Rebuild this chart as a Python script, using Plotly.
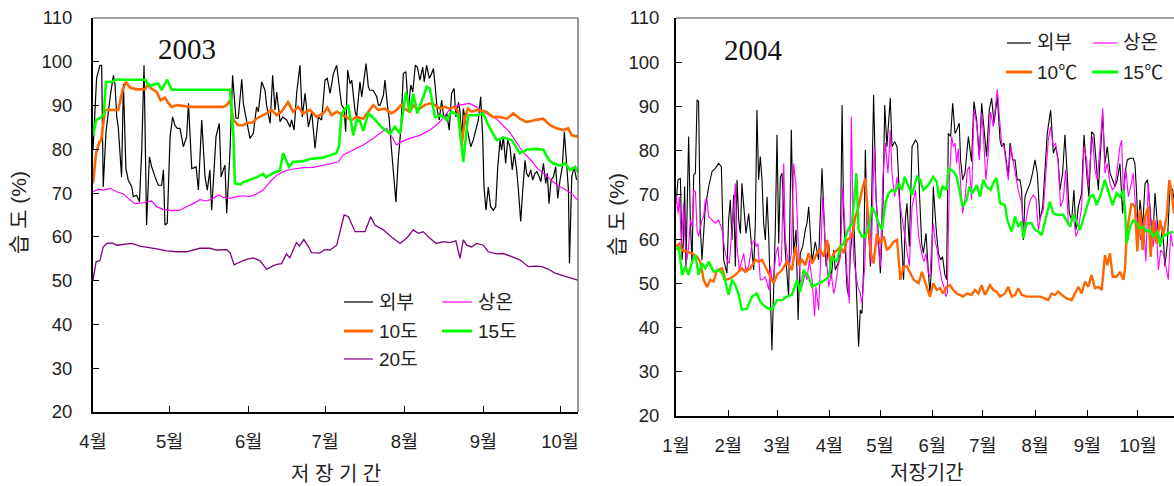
import plotly.graph_objects as go

W, H = 1174, 486

# ---------------- 2003 (day 0 = 4월 1일) ----------------
d03_out = [0, 1.4, 2.7, 3.4, 4.0, 5.1, 6.9, 8.0, 8.6, 9.3, 9.9, 11.2, 11.9, 12.9, 13.8, 15.2, 15.8, 17.1, 18.2, 19.1,
           20, 21, 22.1, 23, 24.3, 25.6, 26.9, 27.6, 28.2, 29.1, 30.2, 31.2, 32.1, 33, 34.1, 35.4, 36.7, 37.4, 38.7,
           40.4, 41.3, 42.6, 43.9, 44.8, 45.8, 46.5, 48.2, 49.5, 50.2, 51.7, 52.4, 53.7, 54.7, 56, 56.9, 58.3, 58.9,
           60.2, 61.5, 62.8, 64.1, 64.8, 66.1, 67.4, 68, 69.4, 70.4, 71.3, 72, 73.3, 74.3, 75.9, 77.2, 77.8, 78.8,
           79.8, 81.1, 82, 83.1, 84.4, 85.7, 87, 88.3, 89.6, 90.9, 91.8,
           92.9, 94.2, 95.5, 96.5, 97.4, 98.4, 99, 99.8, 100.7, 101.4, 102, 102.7, 103.3, 104, 104.6, 105.3, 105.9,
           107, 107.9, 108.5, 109.8, 111.2, 111.8, 112.5, 113.8, 114.4, 115.3, 116.1, 117, 117.9, 118.7, 119.6,
           120.6, 121.6, 122.6, 123.6, 124.5, 125.3, 126.3, 127.1, 128.1, 129.2, 129.8, 130.7, 131.8, 132.7, 133.4,
           134.1, 134.9, 135.7, 136.6, 137.5, 138.6, 139.6, 140.5, 141.5, 142.2, 143.2, 143.8, 144.5, 145.1, 146.2,
           147.1, 148, 149, 150, 151, 151.9, 152.7, 153.2, 154, 154.9, 155.8, 156.9, 157.8, 158.6, 159.5, 160.1,
           160.8, 161.7, 162.5, 163.4, 164.3, 165.1, 166, 166.7, 167.6, 168.4, 169.3, 169.9, 170.7, 171.5, 172.3,
           173.2, 173.9, 174.9, 175.5, 176.5, 177.4, 178, 178.7, 179.5, 180.4, 181.3, 182.1, 183, 183.9, 184.7,
           185.6, 186.3, 186.7, 187.6, 188.5, 189.5]
v03_out = [79.8, 96.2, 99.2, 99.2, 71.4, 84, 92.8, 96.9, 95, 87.4, 85.1, 73.7, 95, 75.6, 73, 71.4, 69.2, 69.5, 68, 79.8,
           99.2, 62.7, 78.3, 76, 73.7, 71.8, 71.8, 75.3, 62.7, 63.1, 82.9, 87.4, 85.5, 84.8, 84.8, 80.6, 82.9, 90.5, 75.6,
           76, 70.7, 86.7, 73.7, 70.7, 75.3, 66.1, 82.9, 85.9, 73.7, 76.4, 65.4, 79.8, 96.9, 87.1, 87.1, 96, 90.5,
           86.3, 82.5, 83.6, 89.7, 88.6, 95.4, 93.5, 90.1, 85.9, 96.9, 89, 93.1, 86.3, 87.4, 86.7, 85.1, 86.7, 84.4,
           92.8, 99.2, 87.4, 92.8, 85.1, 88.6, 80.2, 87.4, 86.7, 95.8, 96.2,
           92.8, 97.3, 99.2, 94.3, 90.1, 89.3, 84, 98.1, 95, 95.8, 92.8, 88.6, 87.4, 92, 95.4, 92, 94.3,
           99.6, 94.3, 93.5, 93.5, 92, 90.1, 90.1, 92.4, 95.8, 90.5, 86.7, 79.8, 73.7, 68, 77.5,
           84.4, 97.3, 97.7, 89, 94.7, 93.1, 99.2, 98.8, 95.8, 98.8, 95.4, 99.2, 96.2, 97.3, 98.5,
           94.3, 89, 86.7, 91.2, 87.1, 88.2, 84.4, 92.8, 93.9, 87.4, 90.8, 88.6, 82.1, 89.3, 85.9,
           83.6, 80.6, 82.1, 84.4, 86.7, 92, 82.9, 71.4, 66.1, 71.4, 66.9, 66.1, 66.9, 76, 82.1, 79.8,
           82.9, 76.8, 82.1, 80.6, 75.3, 79.1, 75.3, 70.7, 63.5, 70.7, 77.5, 74.5, 73.7, 75.3, 73,
           74.5, 74.9, 73.7, 72.6, 76.8, 72.2, 74.5, 67.6, 73, 73.7, 76, 68.8, 73, 76, 84,
           76, 70.7, 54, 73.7, 76, 73]

d03_room = [0, 2.1, 4, 6.7, 9.3, 11.9, 13.8, 16.4, 19.7, 23, 24.9, 27.5, 30.8, 34, 36.7, 39.3, 41.9, 44.5, 47.1, 49.1,
            51, 53.7, 56.3, 58.9, 61.5, 64.1, 66.7, 69.4, 72, 74.6, 77.2, 79.8, 82.4, 86.3, 90.2, 92.9, 96.1, 98,
            102, 105.9, 109.8, 113, 115, 117, 118.9, 120.8, 124.1, 128, 132, 134.5, 137.1, 139.1, 141, 143.6, 147.5,
            150.2, 152.8, 155.4, 158, 160.6, 163.2, 165.8, 168.4, 171, 174.3, 177.5, 180.2, 182.8, 185.4, 188.1, 189.7]
v03_room = [70.3, 70.9, 70.7, 71.1, 70.3, 69.8, 68.8, 67.6, 67.8, 68.2, 66.9, 66.3, 66, 66.1, 66.9, 67.6, 68.5, 68.2, 68.8, 69.6,
            69.1, 68.8, 69.2, 69.4, 69.2, 69.8, 70.7, 72.6, 74.1, 74.9, 75.4, 75.6, 75.8, 75.9, 76.4, 76.8, 77.1, 78.7,
            79.8, 81, 82.5, 84, 84.8, 83, 81, 81.7, 82.5, 83.2, 84.4, 85.5, 87, 88.6, 89.7, 90.1, 90.5,
            89.7, 88.6, 87.8, 87, 85.5, 84, 81.7, 79.4, 77.9, 75.6, 74.1, 72.6, 71.5, 70.7, 69.6, 68.5]

d03_10 = [0, 1.2, 2.5, 3.2, 4.7, 6.7, 9.9, 11.6, 12.9, 14.5, 17.1, 20.4, 21.7, 22.3, 24.9, 26.5, 28.2, 29.5, 30.8, 32.8,
          38, 51, 52.4, 53.7, 55, 56.9, 58.9, 60.2, 62.8, 64, 68, 70, 71.9, 73.9, 76.4, 78.4, 80.4, 82.4, 85, 87.6,
          90.2, 91.8, 93.5, 95.5, 98, 101.3, 103.3, 105.9, 107.9, 109.8, 111.8, 114.3, 117, 118.9, 120.8, 122.1,
          124.1, 125.4, 127.3, 130, 132, 134, 136, 137.9, 139.9, 141.8, 143.1, 144.5, 145.8, 147, 148.3, 150.8,
          154.1, 156.7, 159.5, 162.1, 164.7, 167.3, 169.9, 173.2, 176.4, 179.1, 181.7, 184.3, 186.2, 187.6, 190.2]
v03_10 = [72.2, 79.1, 81.7, 82, 89, 89, 89, 93.5, 95.4, 94.1, 93.7, 93.7, 95, 94.1, 93.1, 91.2, 91.8, 90.6, 89.7, 90.1,
          89.7, 89.7, 90.1, 91.2, 86.7, 85.5, 85.5, 86, 86.2, 87, 88.2, 89, 87.8, 88.6, 90.8, 88.6, 89.7, 88.2, 89, 87.4,
          88.2, 89.5, 87.8, 88.6, 87.8, 86.7, 87.4, 87, 88.6, 90.1, 89, 89.3, 88.2, 89, 90.1, 89.3,
          88.6, 90.1, 89, 90.1, 90.5, 90.1, 89.3, 89.7, 89.3, 89.7, 88.6, 81, 87.4, 89.3, 88.6, 89,
          88.6, 87.4, 87.4, 87, 88.2, 87, 86.2, 86.7, 87, 85.5, 84.8, 84.4, 84.8, 83.2, 82.9]

d03_15 = [0, 1.2, 3.4, 4.2, 5.1, 8, 8.6, 20.4, 22.3, 23.5, 25.6, 26.9, 29.1, 30.8, 53.7, 55, 55.6, 57.6, 59, 61.5,
          64, 66.7, 67.8, 70.6, 73.2, 74.5, 76.8, 78.4, 82.3, 85, 90.1, 92.7, 95.3, 96.4, 97.4, 100, 102, 103.3,
          104.6, 105.9, 107.9, 110, 113, 116.4, 118.3, 120.3, 122.6, 124.2, 125.5, 127.1, 128.8, 130.8, 132, 134,
          136.6, 138.5, 140.5, 143.1, 145.1, 147, 150.3, 152.9, 154.9, 158.2, 160.8, 164.1, 167.3, 169.9, 173.2,
          176.5, 178.4, 180.2, 183, 185, 186.9, 188.9, 190.2]
v03_15 = [83, 86.7, 87.4, 88, 95.4, 95.5, 95.9, 95.9, 94.4, 94.8, 95, 93.5, 95.9, 93.6, 93.6, 83.6, 72.2, 72, 72.5, 73,
          73.6, 74.4, 73.6, 74.6, 75.1, 79.1, 76, 77.1, 77.3, 77.8, 78.1, 78.6, 79.1, 80.6, 88.2, 90.1, 83.2, 86.7,
          86.5, 84.2, 88.2, 87.1, 85.1, 83.6, 85.1, 83.6, 93.1, 88.6, 92.7, 88.2, 91.2, 94.3, 93.9, 87.4,
          87.8, 86.7, 88.6, 87.8, 77.1, 87.8, 87.8, 88.2, 85.5, 82.1, 82.7, 82.1, 79.1, 79.9, 80.1,
          79.9, 77.8, 76.8, 76.3, 76.8, 75.3, 76, 74.6]

d03_20 = [0, 1.2, 2.7, 4, 5.4, 7.5, 9.3, 11.9, 15.2, 18.4, 22.3, 25.6, 28.9, 32.8, 36.7, 39.3, 41.9, 45.8, 48.4, 52.4,
          53.7, 55.3, 57, 58.9, 60.8, 62.8, 65.4, 68, 70, 72, 73.9, 75.8, 77.1, 79.7, 80.9, 82.6, 84.3, 85.6, 88.9,
          90.8, 92.9, 95.5, 96.8, 98.4, 100.1, 102.7, 106.6, 108.8, 110.5, 113.8, 117, 120.3, 122.9, 125.5, 127.5,
          129.4, 132, 134.6, 137.3, 139.9, 142.2, 143.8, 145.1, 146.4, 148.4, 150.3, 152.9, 154.9, 158.2, 160.8,
          164.1, 167.4, 170.6, 173.3, 175.9, 178.5, 181.1, 184.4, 187, 189.9]
v03_20 = [50.1, 54.3, 54.6, 57.7, 58.5, 58.6, 58.1, 58.3, 58.5, 57.9, 57.6, 57.2, 56.8, 56.6, 56.6, 57, 57.4, 57.4, 57, 57.1,
          56.4, 53.6, 54.1, 54.6, 55, 55.2, 54.6, 52.6, 53.2, 53.7, 53.9, 56.1, 55.2, 58.7, 57.9, 59.4, 57.9, 56.4, 56.3,
          57.1, 57, 58.1, 61.2, 65, 64.6, 61.2, 61.2, 64.6, 62.7, 61.6, 60, 58.5, 59.7, 61.6, 60.8,
          61.2, 59.7, 58.5, 58.9, 58.7, 59.1, 55.1, 59.3, 58.1, 57.7, 58.5, 58.1, 56.6, 56.1, 56.2,
          55.5, 54.7, 53.2, 53.3, 53.2, 52.6, 51.7, 51.1, 50.5, 50.1]

ticks03 = [0, 30, 61, 91, 122, 153, 183]
labels03 = ["4월", "5월", "6월", "7월", "8월", "9월", "10월"]

# ---------------- 2004 (day 0 = 1월 1일) ----------------
d04_out = [0, 1.2, 2.6, 3.6, 4.5, 5.1, 5.9, 7.5, 8.5, 9.5, 10.5, 11.5, 12.5, 13.4, 14.4, 15.4, 17.4, 19.4, 21.4, 23.3,
           25.3, 26.9, 28.3, 29.3, 30.2, 31.2, 32.2, 33.2, 34.2, 35.2, 36.2, 37.2, 38.2, 39.1, 40.1, 41.5, 43.1,
           45.1, 46.1, 47.1, 48, 49, 50, 51, 52, 53, 54, 55, 56, 56.9, 57.9, 58.9, 59.9, 60.9, 61.9, 62.9, 64.8,
           66.8, 68.4, 69.8, 71.2, 72.4, 73.7, 75.1, 76.7, 77.7, 78.7, 80.7, 82.6, 84.6, 86.6, 87.6, 89, 90.6,
           92.1, 93.5, 94.5, 96.5, 97.5, 98.5, 99.4, 100.4, 101.4, 102.4, 103.4, 105.4, 106.4, 107.4, 108.3,
           109.3, 110.3, 111.3, 112.3, 113.3, 114.3, 115.3, 116.3, 117.2, 118.6, 119.8, 121.2, 122.6, 123.8,
           125.1, 126.1, 127.1, 128.1, 129.7, 131.1, 132.1, 133.1, 134, 135, 136, 137, 138.4, 140, 142, 143.3,
           144.5, 145.7, 146.7, 148.3, 149.6, 150.6, 151.6, 152.6, 154.2, 155.6, 157, 158.1, 159.5, 160.5, 161.5,
           162.9, 164.1, 165.5, 166.5, 168, 168.8, 170, 171.4, 173.4, 175.3, 176.7, 178.3, 179.9, 181.3, 182.7,
           184.2, 185.8, 187.2, 188.6, 190.6, 192.2, 193.1, 194.5, 195.7, 197.1, 198.1, 199.7, 201.1, 202.4, 204,
           205, 206, 207, 208.4, 210, 211.5, 212.9, 214.3, 215.9, 217.5, 218.8, 220.2, 222.2, 223.8, 225.2, 226.7,
           227.7, 229.3, 230.7, 232.1, 233.3, 234.7, 236, 237.2, 238.6, 240.6, 242, 243.6, 244.9, 246.5, 247.9,
           249.1, 250.5, 251.5, 253.1, 254.4, 255.8, 257.4, 259, 260.4, 261.7, 263.3, 264.9, 266.3, 267.7, 269.3,
           271.2, 272.2, 273.2, 274.2, 275.2, 276.8, 278.2, 279.7, 281.1, 282.7, 284.1, 285.5, 287.1, 288.6, 290,
           291.4, 293, 294.6, 295.4]
v04_out = [68, 73.4, 73.8, 55.3, 59.8, 71.9, 53.8, 83.2, 64.3, 54.5, 74.5, 74.9, 91.5, 91.1, 62.8, 55.3, 67.3, 71.9, 75.3, 76,
           77.1, 76.4, 55.3, 53.8, 52.3, 64.3, 68.9, 59.8, 70, 53.8, 73.4, 64.3, 61.3, 72.6, 67.3, 61.3, 65.8,
           56.4, 53, 64.3, 89.2, 73.4, 78.7, 73.4, 63.6, 59.8, 69.6, 60.6, 44.7, 34.9, 48.5, 62.1, 83.6, 59, 74.1, 74.9, 57.5,
           47, 84.7, 56.8, 62.1, 41.7, 56.8, 58.3, 62.1, 63.6, 67.3, 54.9, 59.4, 55.3, 76, 66.6, 53.8, 59,
           51.1, 57.5, 53, 54.9, 58.3, 90.3, 65.8, 57.5, 49.2, 47, 56.8, 64.3, 53.8, 46.2, 35.7,
           44, 43.2, 53.8, 80.2, 64.3, 62.1, 53.8, 73.4, 92.6, 70.4, 62.8, 52.3, 64.3, 90.3,
           80.9, 87.7, 91.9, 80.9, 82, 80.9, 73.4, 65.8, 60.6, 50.8, 64.3, 68.1, 58.3, 80.9, 82.4, 81.7,
           69.6, 59, 56.8, 61.3, 53, 47.7, 53.8, 71.9, 62.8, 56.8, 55.3, 56, 51.9, 50.8, 83.9,
           83.2, 90.7, 83.9, 84.7, 86.2, 77.9, 73.4, 74.9, 83.2, 77.5, 91.1, 87, 78.7, 90.7, 84.7,
           78.7, 89.2, 91.9, 86.2, 92.2, 82.4, 80.9, 81.7, 77.9, 74.1, 81.7, 77.9, 77.9, 73.4, 73.4,
           71.1, 59.8, 69.6, 71.1, 72.6, 74.9, 77.9, 74.9, 64.3, 67.3, 76, 83.9, 89.2, 79.4, 80.9, 77.9,
           71.1, 74.9, 83.6, 72.6, 65.8, 64.3, 71.1, 62.1, 67.3, 70.4, 83.6, 74.9, 69.6, 84.3, 83.6,
           77.9, 71.1, 77.9, 88.1, 77.1, 80.9, 74.9, 73.4, 71.9, 73.4, 77.1, 65.8, 74.9, 77.9, 78.3,
           78.3, 77.1, 70.4, 60.6, 68.9, 62.8, 72.6, 73.4, 67.3, 59, 70.4, 63.6, 58.3, 62.8, 53.8,
           59, 71.9, 71.1, 68.9]

d04_room = [0, 1.2, 2, 3.2, 4.5, 5.5, 6.5, 7.5, 8.5, 9.5, 10.5, 11.5, 12.5, 13.4, 15.4, 16.4, 17.4, 18.4, 19.4, 21.4,
            23.3, 25.3, 27.3, 28.9, 30.2, 31.6, 33.2, 34.2, 35.2, 36.2, 37.6, 39.1, 40.1, 41.5, 43.1, 45.1, 46.7,
            47.5, 48.6, 50, 51.4, 53, 55, 56, 56.9, 57.9, 59.3, 60.5, 61.3, 62.5, 63.9, 64.8, 65.8, 67.2, 68.4,
            69.8, 71.2, 72.4, 73.7, 74.7, 75.7, 76.7, 77.7, 79.1, 80.7, 82.2, 83, 84.6, 85.6, 87, 88.6, 89.6, 90.6,
            92.1, 93.5, 94.5, 96.1, 97.5, 98.9, 100, 101.4, 102.8, 104, 105.4, 106.8, 107.9, 109.3, 110.3, 111.9,
            113.3, 114.3, 115.7, 116.8, 117.6, 118.6, 119.8, 121.2, 122.6, 124.2, 125.7, 127.1, 128.1, 129.7, 131.1,
            132.5, 134, 135.6, 137, 138.4, 140, 142, 143.9, 145.7, 147.1, 148.3, 149.6, 150.6, 151.6, 152.6, 153.6,
            155, 156.2, 157.6, 158.9, 160.1, 160.9, 162.1, 163.5, 164.5, 165.5, 166.5, 167.4, 168.4, 170, 171.4,
            172.8, 174, 175.3, 176.7, 178.3, 179.9, 181.3, 182.3, 183.8, 185.2, 186.6, 188.2, 189.8, 190.6, 191.8,
            193.1, 194.5, 195.7, 197.1, 198.5, 200.1, 201.6, 203, 205, 206.4, 207.6, 209, 210.3, 211.9, 213.5,
            214.9, 216.3, 217.9, 219.4, 220.8, 222.2, 223.8, 225.2, 226.7, 228.1, 229.7, 231.1, 232.7, 234.1,
            235.6, 237.2, 238.6, 240.6, 242, 243.6, 244.5, 245.9, 247.1, 248.5, 249.9, 251.5, 253.1, 254.4, 255.8,
            257.4, 259, 260.4, 261.7, 263.3, 264.3, 265.3, 266.9, 268.3, 269.7, 271.2, 272.8, 274.2, 275.6, 277.2,
            278.7, 280.1, 281.5, 283.1, 284.7, 286.1, 287.5, 289, 290.6, 292, 293.4, 294.6]
v04_room = [70.4, 65.8, 69.6, 58.3, 68.1, 59.8, 55.3, 58.3, 64.3, 62.8, 71.1, 70.7, 62.1, 60.6, 64.3, 65.1, 68.9, 68.9, 65.1, 64.3,
            63.6, 64.3, 62.1, 57.5, 55.3, 54.5, 61.3, 66.6, 72.6, 58.3, 53, 55.3, 56.8, 53, 53.8, 59, 59.8,
            58.3, 59, 50.8, 50.8, 51.5, 48.5, 53.8, 50.8, 51.5, 56.8, 58.3, 53.8, 54.9, 77.1, 60.6, 56.8, 53.8, 56.8,
            77.1, 71.9, 59.8, 50.8, 49.2, 50.8, 52.3, 50.8, 55.3, 50.8, 42.5, 49.2, 44, 53.8, 69.6, 58.3, 53.8, 49.2,
            52.3, 47.7, 49.2, 53.8, 56, 71.9, 64.3, 52.3, 45.5, 87.7, 55.3, 51.5, 49.2, 47.7, 45.5, 53.8,
            67.3, 60.6, 54.5, 70.4, 80.9, 69.6, 59, 53.8, 73.4, 81.7, 74.9, 84.7, 74.9, 69.6, 74.1,
            68.9, 65.1, 60.6, 57.5, 53.8, 67.3, 71.1, 60.6, 56.8, 54.9, 56.8, 52.3, 51.5, 58.3, 63.6, 59.8,
            57.5, 53.8, 50.8, 49.2, 47, 47.7, 72.6, 83.2, 80.9, 81.7, 77.1, 80.5, 74.9, 65.8, 68.9,
            75.6, 76.4, 68.9, 89.2, 86.2, 77.9, 88.5, 83.9, 73.4, 79.4, 88.8, 85.4, 91.9, 93.9, 87.7,
            81.7, 80.9, 77.9, 73.4, 80.9, 77.1, 73.4, 71.1, 68.1, 60.6, 64.3, 67.3, 68.9, 70, 69.2,
            62.1, 65.1, 66.6, 74.9, 82.4, 85.4, 80.9, 81.7, 77.1, 67.3, 68.9, 75.6, 63.6, 62.8,
            65.8, 60.6, 62.1, 67.3, 80.9, 77.9, 71.9, 78.7, 83.2, 75.6, 73.4, 80.9, 89.6, 74.9, 77.1,
            72.6, 71.1, 71.9, 76.4, 80.9, 82.4, 70.4, 75.6, 69.6, 71.9, 74.9, 65.8, 63.6, 59.8, 64.3,
            54.9, 72.6, 64.3, 58.3, 64.3, 53, 57.5, 56.8, 53.8, 50.8, 61.3, 58.3]

d04_10 = [0, 2, 3.6, 6.5, 9.5, 12.5, 14.4, 16.4, 18.4, 20.4, 22.3, 24.3, 27.3, 29.3, 32.2, 35.2, 37.2, 39.1, 41.1, 44.1,
          47.1, 49, 51, 53, 55, 57.9, 59.9, 62.9, 65.8, 68.8, 70.8, 72.8, 74.7, 76.7, 78.7, 80.7, 83.6, 85.6, 87.6,
          89.6, 91.5, 93.5, 95.5, 97.5, 99.4, 101.4, 104.4, 106.4, 108.3, 110.3, 112.3, 114.3, 115.3, 117.2, 119.2,
          121.2, 123.2, 125.1, 127.1, 129.1, 131.1, 133.1, 135, 137, 139, 141, 143.9, 145.9, 147.7, 150.6, 152.6,
          154.6, 156.6, 158.5, 160.5, 162.5, 164.5, 166.5, 168.4, 170.4, 172.4, 175.3, 177.3, 179.3, 181.3, 183.3,
          186.2, 188.2, 190.2, 192.2, 195.1, 197.1, 199.1, 201.1, 203, 205, 208, 211.9, 215.9, 218.8, 220.8, 222.8,
          224.8, 226.7, 228.7, 231.7, 234.7, 236.6, 238.6, 240.6, 242.6, 244.5, 246.5, 248.5, 250.5, 252.5, 254.4,
          255.8, 257.4, 259, 261.3, 263.3, 265.3, 266.3, 267.3, 268.9, 270.2, 272.2, 273.6, 275.2, 276.8, 278.2,
          280.1, 281.5, 283.1, 285.1, 287.1, 289, 291, 292.6, 294, 295.4]
v04_10 = [58.3, 59, 57.5, 57.2, 56.8, 56, 54.9, 50.8, 49.2, 50.8, 50.4, 53, 53.4, 50.8, 51.1, 51.9, 52.6, 53.4, 52.6, 53.4,
          55.3, 54.9, 55.3, 53.8, 52.3, 50, 51.9, 53, 54.9, 53, 58.3, 54.1, 55.3, 54.1, 56.8, 54.5, 56.8, 57.5, 56,
          59.8, 54.5, 56.8, 57.5, 58.3, 56.8, 59.8, 60.6, 65.1, 67.3, 71.1, 73.8, 64.3, 57.5, 54.5, 61.3,
          59, 60.6, 57.5, 58.3, 59.4, 59.8, 50.8, 53.8, 53.8, 52.3, 50.8, 50, 52.6, 50.4, 47, 50,
          48.5, 48.9, 47.7, 49.2, 49.6, 48.5, 47.7, 47.4, 47, 47.7, 47.4, 48.5, 47.7, 49.6, 47.4,
          49.6, 48.5, 48.1, 47, 47.7, 49.2, 47, 47.4, 48.9, 47.4, 47, 47, 47, 46.6, 46.2, 47.7,
          47.4, 48.1, 47.4, 46.6, 46.2, 47.7, 49.2, 47.7, 50.4, 49.2, 51.9, 48.9, 49.2, 48.5, 56.4,
          54.1, 56.8, 51.5, 51.5, 52.6, 50.8, 53, 61.3, 65.1, 68.1, 67.3, 57.2, 66.6, 57.5, 65.1,
          67.3, 56, 64.3, 59, 64.3, 60.9, 65.1, 73.4, 70.4, 65.8]

d04_15 = [0, 1.6, 3.6, 5.5, 7.5, 9.5, 11.5, 13.4, 15.4, 17.4, 19.4, 22.3, 25.3, 27.3, 29.3, 31.2, 33.2, 35.2, 37.2, 39.1,
          42.1, 45.1, 48, 50, 53, 56.9, 59.9, 62.9, 65.8, 68.8, 71.8, 73.7, 75.7, 78.7, 80.7, 84.6, 88.6, 90.6, 92.5,
          95.5, 97.5, 99.4, 102, 104.4, 107, 108.3, 110.3, 112.3, 114.3, 116.3, 118.2, 120.2, 122.2, 124.2, 126.1,
          128.1, 130.1, 132.1, 134, 135.6, 138, 140, 142.9, 144.9, 146.7, 149.6, 152.6, 154.6, 156.2, 158.1, 160.5,
          161.5, 164.5, 166.5, 168.4, 170, 172.4, 174, 175.9, 178.3, 180.3, 182.3, 184.2, 186.6, 188.6, 190.2,
          192.2, 195.1, 196.5, 199.1, 201.1, 203, 205, 206, 208, 210.9, 212.9, 214.9, 216.9, 218.8, 221.8, 223.8,
          226.7, 229.7, 231.7, 233.7, 235.6, 237.6, 239.6, 242.6, 245.5, 247.5, 249.5, 251.5, 254.4, 257, 259,
          261.3, 263.3, 265.3, 266.3, 267.3, 269.3, 271.2, 273.2, 275.2, 277.2, 279.1, 281.1, 283.1, 285.5, 287.1,
          289, 292, 295]
v04_15 = [57.5, 58.3, 51.9, 53.8, 51.9, 54.9, 56.4, 51.9, 54.5, 53.4, 54.9, 52.6, 53, 52.3, 50.4, 47.4, 50.8, 49.6, 47.4, 44,
          44.3, 47, 47.7, 45.8, 44.7, 44, 46.2, 46.2, 47, 47.4, 50.8, 48.1, 53, 51.5, 49.2, 50, 50.8, 51.5, 56,
          54.9, 58.3, 59, 62.1, 63.6, 74.9, 62.1, 60.6, 60.6, 62.8, 67.3, 65.8, 63.6, 62.1, 68.1, 70.4,
          71.1, 70.7, 72.6, 71.1, 74.1, 71.9, 70, 74.1, 73.4, 71.1, 72.2, 74.1, 73, 69.2, 71.9, 71.1,
          76, 75.3, 74.1, 70.4, 67.3, 68.9, 71.9, 70.4, 72.2, 69.6, 73.4, 71.9, 71.1, 73, 73.8,
          68.1, 67.7, 64.3, 61.7, 65.1, 62.8, 64, 60.2, 63.6, 63.6, 62.1, 61.7, 60.9, 64, 68.5, 65.8,
          65.5, 65.5, 64.3, 62.8, 65.5, 63.6, 62.1, 65.8, 69.6, 70, 67.7, 69.6, 73.4, 70, 67.7,
          70.4, 69.6, 71.1, 66.6, 59, 62.8, 64.3, 63.6, 62.4, 62.8, 61.7, 62.1, 60.6, 61.7, 58.7,
          60.6, 61.3, 61.7]

ticks04 = [0, 31, 60, 91, 121, 152, 182, 213, 244, 274]
labels04 = ["1월", "2월", "3월", "4월", "5월", "6월", "7월", "8월", "9월", "10월"]

yticks = list(range(20, 111, 10))

# ---------------- styling ----------------
SANS = "Liberation Sans, Noto Sans CJK KR, sans-serif"
SERIF = "Liberation Serif, serif"
TXT = "#222222"
C_OUT, C_ROOM, C_10, C_15, C_20 = "#000000", "#FF00FF", "#FF6600", "#00FF00", "#800080"


def px(x):
    return x / W


def py(y):
    return 1 - y / H


fig = go.Figure()


def add(x, y, color, width, xa, ya):
    fig.add_trace(go.Scatter(x=x, y=y, mode="lines", xaxis=xa, yaxis=ya, showlegend=False,
                             line=dict(color=color, width=width), hoverinfo="skip"))


add(d03_out, v03_out, C_OUT, 1.2, "x", "y")
add(d03_room, v03_room, C_ROOM, 1.2, "x", "y")
add(d03_10, v03_10, C_10, 2.6, "x", "y")
add(d03_15, v03_15, C_15, 2.6, "x", "y")
add(d03_20, v03_20, C_20, 1.3, "x", "y")

add(d04_out, v04_out, C_OUT, 1.1, "x2", "y2")
add(d04_room, v04_room, C_ROOM, 1.1, "x2", "y2")
add(d04_10, v04_10, C_10, 2.4, "x2", "y2")
add(d04_15, v04_15, C_15, 2.4, "x2", "y2")

L1, R1, T1, B1 = 93, 578, 18, 412
L2, R2, T2, B2 = 676, 1174, 18, 416

common_x = dict(showgrid=False, zeroline=False, showline=True, linecolor="black", linewidth=2,
                ticks="inside", ticklen=6, tickwidth=1, tickcolor="black", automargin=False,
                tickfont=dict(family=SANS, size=18.5, color=TXT), ticklabelstandoff=12)
common_y = dict(showgrid=False, zeroline=False, showline=True, linecolor="black", linewidth=2,
                ticks="inside", ticklen=6, tickwidth=1, tickcolor="black", range=[20, 110], automargin=False,
                tickvals=yticks, tickfont=dict(family=SANS, size=18.5, color=TXT))

fig.update_layout(
    width=W, height=H, margin=dict(l=0, r=0, t=0, b=0, pad=0, autoexpand=False),
    paper_bgcolor="white", plot_bgcolor="white",
    xaxis=dict(domain=[px(L1), px(R1)], range=[0, (R1 - L1) / 2.552], anchor="y",
               tickvals=ticks03, ticktext=labels03, **common_x),
    yaxis=dict(domain=[py(B1), py(T1)], anchor="x", ticklabelstandoff=15, **common_y),
    xaxis2=dict(domain=[px(L2), px(R2)], range=[0, (R2 - L2) / 1.686], anchor="y2",
                tickvals=ticks04, ticktext=labels04, **common_x),
    yaxis2=dict(domain=[py(B2), py(T2)], anchor="x2", ticklabelstandoff=11, **common_y),
)

shapes = [
    # frame edges in grey
    dict(type="line", xref="paper", yref="paper", x0=px(L1), x1=px(R1), y0=py(T1), y1=py(T1),
         line=dict(color="#808080", width=1.3)),
    dict(type="line", xref="paper", yref="paper", x0=px(R1), x1=px(R1), y0=py(T1), y1=py(B1),
         line=dict(color="#606060", width=1.3)),
    dict(type="line", xref="paper", yref="paper", x0=px(L2), x1=px(R2), y0=py(T2), y1=py(T2),
         line=dict(color="#808080", width=1.3)),
]

annotations = []


def text(x, y, s, size=18, family=SANS, anchor="left", angle=0, color=TXT):
    annotations.append(dict(x=px(x), y=py(y), xref="paper", yref="paper", text=s, showarrow=False,
                            xanchor=anchor, yanchor="middle", textangle=angle,
                            font=dict(family=family, size=size, color=color)))


def legend_item(x0, x1, y, color, width, label, tx):
    shapes.append(dict(type="line", xref="paper", yref="paper", x0=px(x0), x1=px(x1), y0=py(y), y1=py(y),
                       line=dict(color=color, width=width)))
    text(tx, y, label, size=19)


# legend, 2003 panel
legend_item(344, 373, 302, C_OUT, 1.2, "외부", 377)
legend_item(442, 472, 302, C_ROOM, 1.2, "상온", 476)
legend_item(344, 373, 331, C_10, 3, "10도", 377)
legend_item(442, 472, 331, C_15, 3, "15도", 476)
legend_item(344, 373, 359, C_20, 1.2, "20도", 377)

# legend, 2004 panel
legend_item(1007, 1031, 43, C_OUT, 1.2, "외부", 1035)
legend_item(1093, 1117, 43, C_ROOM, 1.2, "상온", 1121)
legend_item(1006, 1032, 72, C_10, 3, "10℃", 1035)
legend_item(1092, 1118, 72, C_15, 3, "15℃", 1121)

# year labels
text(187, 49, "2003", size=29, family=SERIF, anchor="center", color="#111")
text(753, 50, "2004", size=29, family=SERIF, anchor="center", color="#111")

# axis titles
text(19, 213, "습 도 (%)", size=21, anchor="center", angle=-90)
text(616, 215, "습 도 (%)", size=21, anchor="center", angle=-90)
text(336, 474, "저 장 기 간", size=20, anchor="center")
text(927, 473, "저장기간", size=20, anchor="center")

fig.update_layout(shapes=shapes, annotations=annotations)

fig.write_html("out.html")
